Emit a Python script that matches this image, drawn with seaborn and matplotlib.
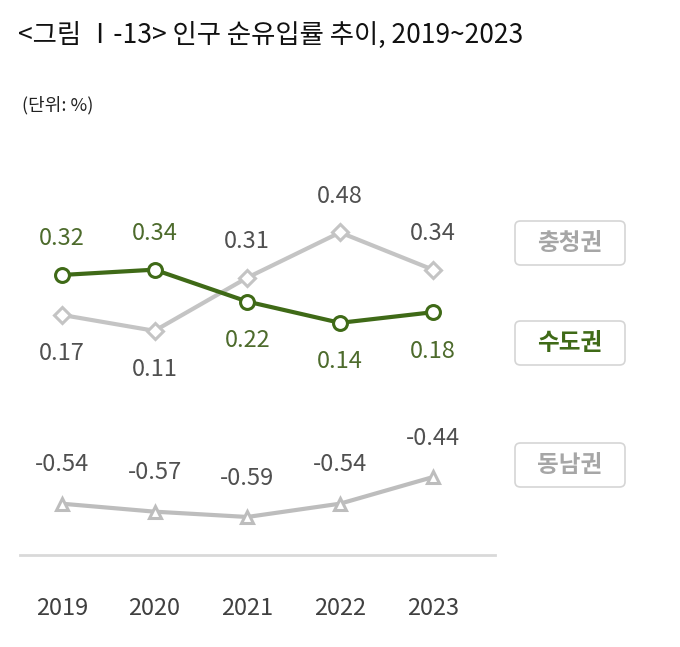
import matplotlib
matplotlib.use("Agg")
import matplotlib.pyplot as plt
import seaborn as sns
import pandas as pd
from matplotlib.patches import FancyBboxPatch
from matplotlib import font_manager

names = {f.name for f in font_manager.fontManager.ttflist}
cands = [n for n in ["Noto Sans CJK KR", "Noto Sans CJK JP", "Noto Sans CJK SC", "Noto Sans CJK TC"] if n in names]
plt.rcParams["font.family"] = cands + ["DejaVu Sans"]

years = ["2019", "2020", "2021", "2022", "2023"]
sudo = [0.32, 0.34, 0.22, 0.14, 0.18]
chungcheong = [0.17, 0.11, 0.31, 0.48, 0.34]
dongnam = [-0.54, -0.57, -0.59, -0.54, -0.44]
series_names = ["충청권", "수도권", "동남권"]

fig = plt.figure(figsize=(6.8, 6.47), dpi=100)
ax = fig.add_axes([20/680, 1-555/647, 475/680, 405/647])
x = list(range(len(years)))

df = pd.DataFrame({"x": x * 3,
                   "v": chungcheong + sudo + dongnam,
                   "s": ["충청권"]*5 + ["수도권"]*5 + ["동남권"]*5})
styles = {"충청권": ("#c4c4c4", "D", 8, 3), "수도권": ("#3f6a17", "o", 10, 3), "동남권": ("#bdbdbd", "^", 9, 3)}
for s in series_names:
    c, m, ms, lw = styles[s]
    sns.lineplot(data=df[df.s == s], x="x", y="v", ax=ax, color=c, lw=lw,
                 marker=m, markersize=ms, markerfacecolor="white",
                 markeredgecolor=c, markeredgewidth=2.2)

green_txt = "#4d6b2c"; gray_txt = "#505050"
sudo_off = [16, 16, -20, -20, -20]
cc_off = [-20, -20, 16, 16, 16]
for i in x:
    ax.annotate(f"{sudo[i]:.2f}", (i, sudo[i]), xytext=(0, sudo_off[i] + (10 if sudo_off[i] > 0 else -8)),
                textcoords="offset points", ha="center", va="center", fontsize=17, color=green_txt)
    ax.annotate(f"{chungcheong[i]:.2f}", (i, chungcheong[i]), xytext=(0, cc_off[i] + (10 if cc_off[i] > 0 else -8)),
                textcoords="offset points", ha="center", va="center", fontsize=17, color=gray_txt)
    ax.annotate(f"{dongnam[i]:.2f}", (i, dongnam[i]), xytext=(0, 28),
                textcoords="offset points", ha="center", va="center", fontsize=17, color=gray_txt)

ax.set_xlim(-0.45, 4.67)
ax.set_ylim(-0.733, 0.79)
ax.set_xticks(x)
ax.set_xticklabels(years, fontsize=17, color="#404040")
ax.set_yticks([])
ax.set_xlabel(""); ax.set_ylabel("")
for sp in ["top", "left", "right"]:
    ax.spines[sp].set_visible(False)
ax.spines["bottom"].set_color("#d9d9d9")
ax.spines["bottom"].set_linewidth(2)
ax.tick_params(axis="x", length=0, pad=30)

fig.text(18/680, 1-35/647, "<그림 Ⅰ-13> 인구 순유입률 추이, 2019~2023", fontsize=19, va="center", color="#111111")
fig.text(22/680, 1-105/647, "(단위: %)", fontsize=13, va="center", color="#222222")

boxes = [("충청권", 243, "#a6a6a6"), ("수도권", 343, "#3f6a17"), ("동남권", 465, "#a6a6a6")]
for name, yc, col in boxes:
    bx = FancyBboxPatch((515/680, 1-(yc+22)/647), 110/680, 44/647,
                        boxstyle="round,pad=0,rounding_size=0.008", transform=fig.transFigure,
                        facecolor="white", edgecolor="#d5d5d5", lw=1.2)
    fig.patches.append(bx)
    fig.text(570/680, 1-yc/647, name, fontsize=17, ha="center", va="center",
             color=col, fontweight="bold")

fig.savefig("out.png", dpi=100)
